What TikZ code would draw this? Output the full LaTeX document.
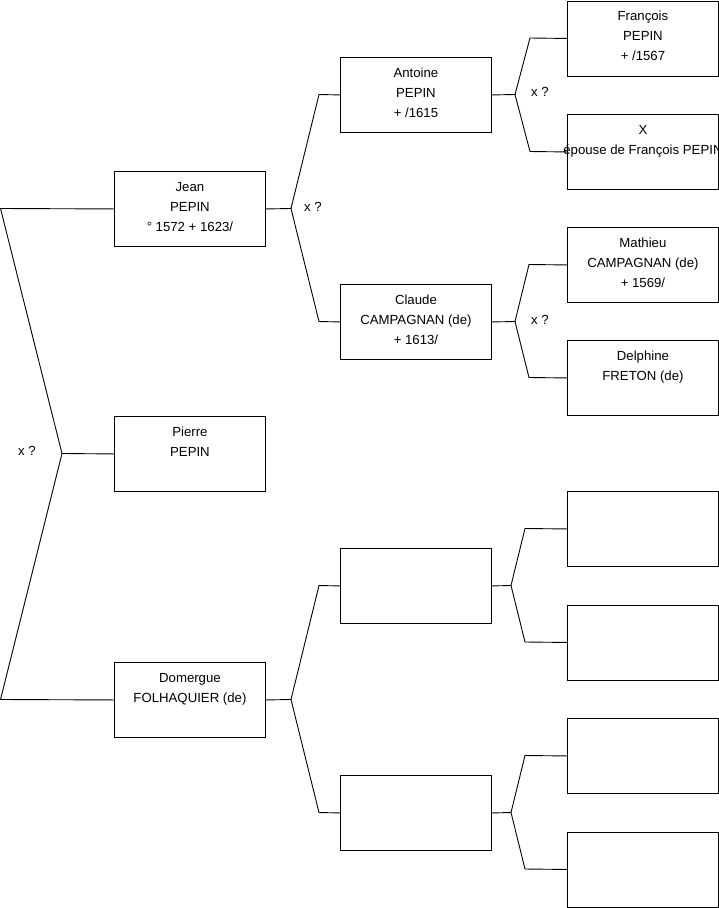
\documentclass[tikz,border=0pt]{standalone}
\usepackage{fontspec}
\setmainfont{Liberation Sans}
\begin{document}
\begin{tikzpicture}[x=1pt,y={(0pt,-1pt)},
  box/.style={draw=black,line width=0.9pt,minimum width=151pt,minimum height=75pt,inner sep=0pt,anchor=north west},
  txt/.style={anchor=north,align=center,inner sep=0pt,font=\fontsize{13.2}{20}\selectfont},
  lbl/.style={anchor=west,inner sep=0pt,font=\fontsize{13.2}{20}\selectfont},
  conn/.style={draw=black,line width=0.9pt}]
\useasboundingbox (0,0) rectangle (719,908);
% column A
\node[box] (jean) at (114,171) {};
\node[box] (pierre) at (114,416) {};
\node[box] (domergue) at (114,662) {};
% column B
\node[box] (antoine) at (340,57) {};
\node[box] (claude) at (340,284) {};
\node[box] (ea) at (340,548) {};
\node[box] (eb) at (340,775) {};
% column C
\node[box] (francois) at (567,0.5) {};
\node[box] (xwife) at (567,114) {};
\node[box] (mathieu) at (567,227) {};
\node[box] (delphine) at (567,340) {};
\node[box] (ra) at (567,491) {};
\node[box] (rb) at (567,604.5) {};
\node[box] (rc) at (567,718) {};
\node[box] (rd) at (567,831.5) {};
% texts
\node[txt] (jeant) at ([yshift=-11pt]jean.north) {Jean\\PEPIN\\° 1572 + 1623/};
\node[txt] (pierret) at ([yshift=-11pt]pierre.north) {Pierre\\PEPIN};
\node[txt] (domerguet) at ([yshift=-11pt]domergue.north) {Domergue\\FOLHAQUIER (de)};
\node[txt] (antoinet) at ([yshift=-11pt]antoine.north) {Antoine\\PEPIN\\+ /1615};
\node[txt] (claudet) at ([yshift=-11pt]claude.north) {Claude\\CAMPAGNAN (de)\\+ 1613/};
\node[txt] (francoist) at ([yshift=-10.5pt]francois.north) {François\\PEPIN\\+ /1567};
\node[txt] (xwifet) at ([yshift=-11pt]xwife.north) {X\\épouse de François PEPIN};
\node[txt] (mathieut) at ([yshift=-11pt]mathieu.north) {Mathieu\\CAMPAGNAN (de)\\+ 1569/};
\node[txt] (delphinet) at ([yshift=-11pt]delphine.north) {Delphine\\FRETON (de)};
% left connector
\coordinate (ltop) at (0.5,208.5);
\coordinate (lbot) at (0.5,699.5);
\coordinate (lmid) at (62,453.5);
\draw[conn] (jean.west) -- (ltop) -- (lmid) -- (lbot) -- (domergue.west);
\draw[conn] (lmid) -- (pierre.west);
\node[lbl] (lx) at (18,451) {x ?};
% Jean group
\coordinate (jb) at (291,208.5);
\coordinate (jbt) at (319,94.5);
\coordinate (jbb) at (319,321.5);
\draw[conn] (jean.east) -- (jb);
\draw[conn] (antoine.west) -- (jbt) -- (jb) -- (jbb) -- (claude.west);
\node[lbl] (jx) at (304,207) {x ?};
% Domergue group
\coordinate (db) at (291,699.5);
\coordinate (dbt) at (319,585.5);
\coordinate (dbb) at (319,812.5);
\draw[conn] (domergue.east) -- (db);
\draw[conn] (ea.west) -- (dbt) -- (db) -- (dbb) -- (eb.west);
% Antoine group
\coordinate (ab) at (515,94.5);
\coordinate (abt) at (530,38);
\coordinate (abb) at (530,151.5);
\draw[conn] (antoine.east) -- (ab);
\draw[conn] (francois.west) -- (abt) -- (ab) -- (abb) -- (xwife.west);
\node[lbl] (ax) at (531,92) {x ?};
% Claude group
\coordinate (cb) at (515,321.5);
\coordinate (cbt) at (529,264.5);
\coordinate (cbb) at (529,377.5);
\draw[conn] (claude.east) -- (cb);
\draw[conn] (mathieu.west) -- (cbt) -- (cb) -- (cbb) -- (delphine.west);
\node[lbl] (cx) at (531,320) {x ?};
% empty groups
\coordinate (eab) at (511,585.5);
\coordinate (eabt) at (525,528.5);
\coordinate (eabb) at (525,642);
\draw[conn] (ea.east) -- (eab);
\draw[conn] (ra.west) -- (eabt) -- (eab) -- (eabb) -- (rb.west);
\coordinate (ebb) at (511,812.5);
\coordinate (ebbt) at (525,755.5);
\coordinate (ebbb) at (525,869);
\draw[conn] (eb.east) -- (ebb);
\draw[conn] (rc.west) -- (ebbt) -- (ebb) -- (ebbb) -- (rd.west);
\end{tikzpicture}
\end{document}
